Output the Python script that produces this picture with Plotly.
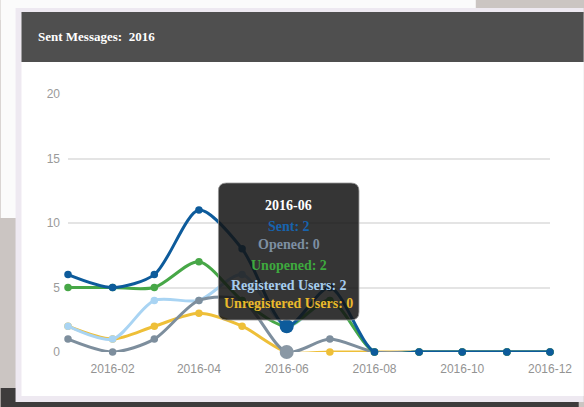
import plotly.graph_objects as go

# ---- data ----
months = ["2016-01", "2016-02", "2016-03", "2016-04", "2016-05", "2016-06",
          "2016-07", "2016-08", "2016-09", "2016-10", "2016-11", "2016-12"]
sent = [6, 5, 6, 11, 8, 2, 5, 0, 0, 0, 0, 0]
opened = [1, 0, 1, 4, 4, 0, 1, 0, 0, 0, 0, 0]
unopened = [5, 5, 5, 7, 4, 2, 4, 0, 0, 0, 0, 0]
registered = [2, 1, 4, 4, 6, 2, 4, 0, 0, 0, 0, 0]
unregistered = [2, 1, 2, 3, 2, 0, 0, 0, 0, 0, 0, 0]
tick_labels = ["2016-02", "2016-04", "2016-06", "2016-08", "2016-10", "2016-12"]
title_text = "Sent Messages:&nbsp; 2016"
hover_month = "2016-06"

series = [
    ("Unregistered Users", unregistered, "#eebf38", "#e9b92c"),
    ("Registered Users", registered, "#a9d4f3", "#a6cdee"),
    ("Opened", opened, "#7d8e9d", "#7d8fa2"),
    ("Unopened", unopened, "#47a747", "#3ea93e"),
    ("Sent", sent, "#0d5b9b", "#1763ad"),
]

W, H = 584, 407
L, R, T, B = 68, 29, 94, 55
PW, PH = W - L - R, H - T - B


def px(x):
    return (x - L) / PW


def py(y):
    return (H - B - y) / PH


fig = go.Figure()
for name, vals, col, _ in series:
    fig.add_trace(go.Scatter(
        x=months, y=vals, name=name, mode="lines+markers",
        line=dict(color=col, width=3, shape="spline", smoothing=0.8),
        marker=dict(color=col, size=7.5), cliponaxis=False,
    ))

# highlighted hovered points
hi = months.index(hover_month)
fig.add_trace(go.Scatter(x=[hover_month], y=[sent[hi]], mode="markers",
                         marker=dict(color="#0d5b9b", size=14), cliponaxis=False))
fig.add_trace(go.Scatter(x=[hover_month], y=[opened[hi]], mode="markers",
                         marker=dict(color="#8a98a5", size=14), cliponaxis=False))

shapes = []


def rect(x0, y0, x1, y1, color, layer="below"):
    shapes.append(dict(type="rect", xref="paper", yref="paper",
                       x0=px(x0), x1=px(x1), y0=py(y1), y1=py(y0),
                       fillcolor=color, line=dict(width=0), layer=layer))


# background papers / surfaces
rect(0, 0, 480, 20, "#fbfbfb")
rect(0, 0, 24, 218, "#fbfbfb")
rect(0, 388, W, H, "#3e3c3c")
# card
rect(15, 8, W + 5, 402, "#eee9f1")
rect(21, 14, W + 5, 396, "#ffffff")
rect(21, 12, W + 5, 62, "#4f4f4f")

# tooltip rounded box
x0, y0, x1, y1, r = 220, 183, 362, 320, 8
path = (f"M {px(x0 + r)},{py(y0)} L {px(x1 - r)},{py(y0)} "
        f"Q {px(x1)},{py(y0)} {px(x1)},{py(y0 + r)} "
        f"L {px(x1)},{py(y1 - r)} Q {px(x1)},{py(y1)} {px(x1 - r)},{py(y1)} "
        f"L {px(x0 + r)},{py(y1)} Q {px(x0)},{py(y1)} {px(x0)},{py(y1 - r)} "
        f"L {px(x0)},{py(y0 + r)} Q {px(x0)},{py(y0)} {px(x0 + r)},{py(y0)} Z")
shapes.append(dict(type="path", path=path, xref="paper", yref="paper",
                   fillcolor="rgba(20,20,20,0.86)",
                   line=dict(color="rgba(150,150,150,0.8)", width=1), layer="above"))

annotations = [dict(text=f"<b>{title_text}</b>", xref="paper", yref="paper",
                    x=px(36), y=py(36), xanchor="left", yanchor="middle",
                    showarrow=False,
                    font=dict(family="Liberation Serif", size=13, color="#ffffff"))]

tip_lines = [(hover_month, "#ffffff")]
order = ["Sent", "Opened", "Unopened", "Registered Users", "Unregistered Users"]
lookup = {s[0]: s for s in series}
for name in order:
    s = lookup[name]
    tip_lines.append((f"{name}: {s[1][hi]}", s[3]))
tip_ys = [205, 226, 245, 265, 285, 303]
for (txt, col), yy in zip(tip_lines, tip_ys):
    annotations.append(dict(text=f"<b>{txt}</b>", xref="paper", yref="paper",
                            x=px(291), y=py(yy), xanchor="center", yanchor="middle",
                            showarrow=False,
                            font=dict(family="Liberation Serif", size=14, color=col)))

fig.update_layout(
    width=W, height=H, margin=dict(l=L, r=R, t=T, b=B),
    paper_bgcolor="#cbc5c2", plot_bgcolor="rgba(0,0,0,0)",
    showlegend=False, shapes=shapes, annotations=annotations,
    hovermode=False,
    xaxis=dict(type="date", range=["2016-01-01", "2016-12-01"],
               tickvals=tick_labels, ticktext=tick_labels,
               showgrid=False, zeroline=False, showline=False,
               ticks="", ticklabelstandoff=8,
               tickfont=dict(family="Liberation Sans", size=12, color="#939393")),
    yaxis=dict(range=[0, 20], tickvals=[0, 5, 10, 15, 20],
               showgrid=True, gridcolor="#e4e4e4", gridwidth=1.5,
               zeroline=False, showline=False, ticklabelstandoff=7,
               tickfont=dict(family="Liberation Sans", size=12, color="#9a9a9a")),
)

fig.write_html("out.html", config={"displayModeBar": False},
               post_script="document.body.style.margin='0';document.body.style.overflow='hidden';")
